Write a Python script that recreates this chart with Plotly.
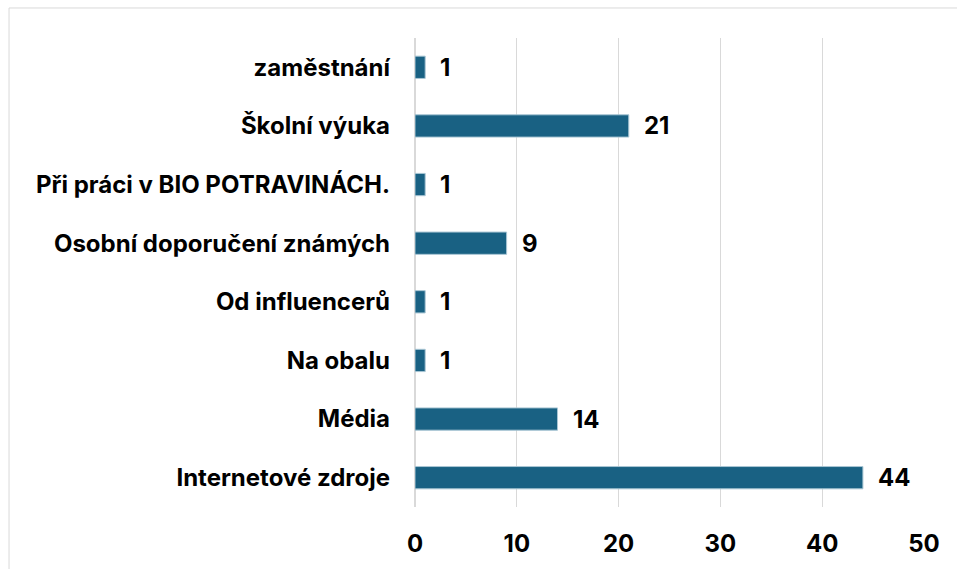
import plotly.graph_objects as go

categories = [
    'Internetové zdroje',
    'Média',
    'Na obalu',
    'Od influencerů',
    'Osobní doporučení známých',
    'Při práci v BIO POTRAVINÁCH.',
    'Školní výuka',
    'zaměstnání',
]
counts = [44, 14, 1, 1, 9, 1, 21, 1]
tick_values = [0, 10, 20, 30, 40, 50]

BAR = '#196183'
FONT = 'Inter, Liberation Sans, Arial, sans-serif'
SIZE = 24

fig = go.Figure()

fig.add_trace(go.Bar(
    y=categories,
    x=counts,
    orientation='h',
    marker=dict(color=BAR, line=dict(color='#a9c6d4', width=1)),
    hoverinfo='skip',
))

# value labels to the right of each bar
for cat, val in zip(categories, counts):
    fig.add_annotation(
        x=val, y=cat, text=f'<b>{val}</b>',
        showarrow=False, xanchor='left', xshift=13,
        font=dict(size=SIZE, color='black', family=FONT),
    )

# outer chart frame (right and bottom edges fall outside the view)
fig.add_shape(
    type='rect', xref='paper', yref='paper',
    x0=-0.7976, x1=1.3, y0=-0.4, y1=1.064,
    line=dict(color='#d9d9d9', width=1), layer='below',
)

fig.update_layout(
    width=957,
    height=569,
    margin=dict(l=415, r=33, t=38, b=62),
    plot_bgcolor='white',
    paper_bgcolor='white',
    showlegend=False,
    bargap=0.62,
    font=dict(family=FONT, size=SIZE, color='black'),
    xaxis=dict(
        range=[0, 50],
        tickvals=tick_values,
        ticktext=[f'<b>{t}</b>' for t in tick_values],
        showgrid=True,
        gridcolor='#d9d9d9',
        gridwidth=1,
        zeroline=True,
        zerolinecolor='#d9d9d9',
        showline=False,
        ticks='',
        ticklabelstandoff=20,
    ),
    yaxis=dict(
        tickvals=categories,
        ticktext=[f'<b>{c}</b>' for c in categories],
        showgrid=False,
        showline=False,
        ticks='',
        ticklabelstandoff=24,
    ),
)

# drop the default page margin so the figure fills the window exactly
fig.write_html(
    'out.html',
    config={'displayModeBar': False},
    post_script="document.body.style.margin='0';document.body.style.overflow='hidden';",
)
